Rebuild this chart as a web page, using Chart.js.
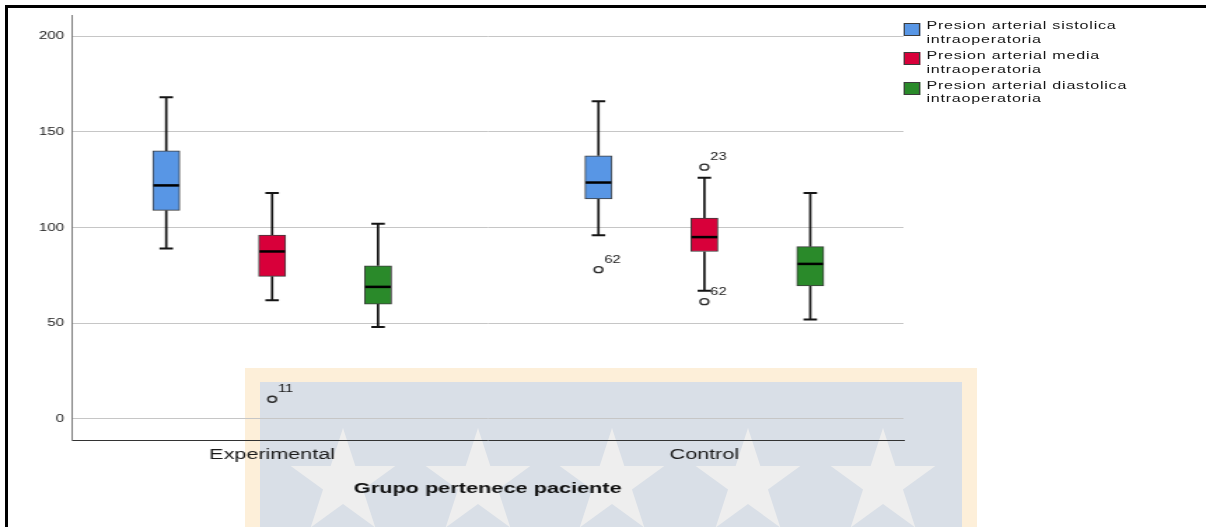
<!DOCTYPE html>
<html>
<head>
<meta charset="utf-8">
<script src="https://cdn.jsdelivr.net/npm/chart.js@4.4.1/dist/chart.umd.min.js"></script>
<style>
  html, body { margin: 0; padding: 0; background: #ffffff; }
  body { width: 1206px; height: 527px; position: relative; overflow: hidden; font-family: "Liberation Sans", Arial, sans-serif; }
  #backdrop { position: absolute; left: 0; top: 0; z-index: 0; }
  #wrap { position: absolute; left: 0; top: 0; width: 861px; height: 527px; transform: scaleX(1.4007); transform-origin: 0 0; z-index: 1; }
  #frame { position: absolute; left: 5px; top: 5px; width: 1210px; height: 530px; border-top: 3px solid #000; border-left: 3px solid #000; z-index: 3; pointer-events: none; }
  .sw { position: absolute; left: 645px; width: 12.3px; height: 13px; box-sizing: border-box; border: 1px solid #3c3c3c; }
  .lt { position: absolute; left: 661.4px; font-size: 11.5px; line-height: 13.5px; letter-spacing: 0.55px; color: #151515; white-space: nowrap; }
</style>
</head>
<body>
<svg id="backdrop" width="1206" height="527" viewBox="0 0 1206 527">
  <defs>
    <polygon id="star" points="0,-55 12.33,-16.97 52.31,-17.00 19.94,6.48 32.33,44.50 0,20.97 -32.33,44.50 -19.94,6.48 -52.31,-17.00 -12.33,-16.97" fill="#eeeeee"/>
  </defs>
  <rect x="245" y="368" width="732" height="170" fill="#fdefd9"/>
  <rect x="260" y="382" width="702" height="160" fill="#d9dfe7"/>
  <use href="#star" transform="translate(343,483)"/>
  <use href="#star" transform="translate(478,483)"/>
  <use href="#star" transform="translate(612,483)"/>
  <use href="#star" transform="translate(748,483)"/>
  <use href="#star" transform="translate(883,483)"/>
</svg>
<div id="wrap">
  <canvas id="chart"></canvas>
  <div id="legend"></div>
</div>
<div id="frame"></div>
<script>
// Patient groups on the category axis
const groups = ['Experimental', 'Control'];

// Legend labels (two lines each)
const seriesLabels = [
  ['Presion arterial sistolica', 'intraoperatoria'],
  ['Presion arterial media', 'intraoperatoria'],
  ['Presion arterial diastolica', 'intraoperatoria']
];
const seriesColors = ['#5896e5', '#d8003a', '#2a8a2a'];

// Box statistics per group: [Experimental, Control]
const sysLow  = [89, 96];
const sysQ1   = [109, 115];
const sysMed  = [122, 123.5];
const sysQ3   = [140, 137.5];
const sysHigh = [168, 166];

const medLow  = [62, 67];
const medQ1   = [74.5, 87.5];
const medMed  = [87.5, 95];
const medQ3   = [96, 105];
const medHigh = [118, 126];

const diaLow  = [48, 52];
const diaQ1   = [60, 69.5];
const diaMed  = [69, 81];
const diaQ3   = [80, 90];
const diaHigh = [102, 118];

// Outlying cases
const outlierGroup  = [0, 1, 1, 1];
const outlierSeries = [1, 0, 1, 1];
const outlierValue  = [10.3, 78, 131.5, 61.3];
const outlierId     = ['11', '62', '23', '62'];

// Value axis ticks
const yTicks = [0, 50, 100, 150, 200];

const stats = [
  { low: sysLow, q1: sysQ1, med: sysMed, q3: sysQ3, high: sysHigh },
  { low: medLow, q1: medQ1, med: medMed, q3: medQ3, high: medHigh },
  { low: diaLow, q1: diaQ1, med: diaMed, q3: diaQ3, high: diaHigh }
];

// Horizontal placement on the linear x scale
const groupPos = [1, 2];
const seriesOffset = [-0.245, 0, 0.245];
const BOX_W = 19.3;
const xPos = (g, s) => groupPos[g] + seriesOffset[s];

const boxDatasets = stats.map((st, si) => ({
  type: 'bar',
  label: seriesLabels[si].join(' '),
  data: groups.map((g, gi) => ({ x: xPos(gi, si), y: [st.q1[gi], st.q3[gi]] })),
  backgroundColor: seriesColors[si],
  borderColor: '#3c3c3c',
  borderWidth: 1,
  borderSkipped: false,
  barThickness: BOX_W,
  grouped: false,
  order: 2
}));

const outlierDataset = {
  type: 'scatter',
  label: 'outliers',
  data: outlierValue.map((v, i) => ({ x: xPos(outlierGroup[i], outlierSeries[i]), y: v })),
  pointStyle: 'circle',
  pointRadius: 3,
  pointBorderWidth: 1.3,
  pointBorderColor: '#2a2a2a',
  pointBackgroundColor: 'rgba(0,0,0,0)',
  order: 1
};

// Whiskers, caps, medians and case labels
const whiskerPlugin = {
  id: 'whiskers',
  beforeDatasetsDraw(chart) {
    const { ctx, scales: { x, y } } = chart;
    ctx.save();
    ctx.strokeStyle = '#151515';
    stats.forEach((st, si) => {
      groups.forEach((g, gi) => {
        const cx = x.getPixelForValue(xPos(gi, si));
        const capHalf = BOX_W / 4;
        const yLow = y.getPixelForValue(st.low[gi]);
        const yQ1 = y.getPixelForValue(st.q1[gi]);
        const yQ3 = y.getPixelForValue(st.q3[gi]);
        const yHigh = y.getPixelForValue(st.high[gi]);
        ctx.lineWidth = 1.7;
        ctx.beginPath();
        ctx.moveTo(cx, yHigh); ctx.lineTo(cx, yQ3);
        ctx.moveTo(cx, yQ1); ctx.lineTo(cx, yLow);
        ctx.stroke();
        ctx.lineWidth = 2;
        ctx.beginPath();
        ctx.moveTo(cx - capHalf, yHigh); ctx.lineTo(cx + capHalf, yHigh);
        ctx.moveTo(cx - capHalf, yLow); ctx.lineTo(cx + capHalf, yLow);
        ctx.stroke();
      });
    });
    ctx.restore();
  },
  afterDatasetsDraw(chart) {
    const { ctx, scales: { x, y } } = chart;
    ctx.save();
    ctx.strokeStyle = '#000000';
    ctx.lineWidth = 2.5;
    stats.forEach((st, si) => {
      groups.forEach((g, gi) => {
        const cx = x.getPixelForValue(xPos(gi, si));
        const ym = y.getPixelForValue(st.med[gi]);
        ctx.beginPath();
        ctx.moveTo(cx - BOX_W / 2 + 0.5, ym);
        ctx.lineTo(cx + BOX_W / 2 - 0.5, ym);
        ctx.stroke();
      });
    });
    ctx.fillStyle = '#1a1a1a';
    ctx.font = '10.5px "Liberation Sans", Arial, sans-serif';
    ctx.textAlign = 'left';
    ctx.textBaseline = 'alphabetic';
    outlierValue.forEach((v, i) => {
      const px = x.getPixelForValue(xPos(outlierGroup[i], outlierSeries[i]));
      const py = y.getPixelForValue(v);
      ctx.fillText(outlierId[i], px + 4.2, py - 7);
    });
    ctx.restore();
  }
};

new Chart(document.getElementById('chart'), {
  type: 'bar',
  data: { datasets: [...boxDatasets, outlierDataset] },
  options: {
    responsive: true,
    maintainAspectRatio: false,
    animation: false,
    events: [],
    layout: { padding: { top: 15, right: 216, bottom: 0, left: 0 } },
    plugins: { legend: { display: false }, tooltip: { enabled: false } },
    scales: {
      x: {
        type: 'linear',
        min: 0.537,
        max: 2.4606,
        offset: false,
        grid: { display: false, drawTicks: false, offset: false },
        border: { display: true, color: '#333333', width: 1 },
        afterBuildTicks: (scale) => { scale.ticks = groupPos.map(v => ({ value: v })); },
        afterFit: (scale) => { scale.height = 87; },
        ticks: {
          autoSkip: false,
          maxRotation: 0,
          padding: 6,
          color: '#1a1a1a',
          font: { family: '"Liberation Sans", Arial, sans-serif', size: 15.4 },
          callback: (value, index) => groups[index]
        },
        title: {
          display: true,
          text: 'Grupo pertenece paciente',
          color: '#111111',
          font: { family: '"Liberation Sans", Arial, sans-serif', size: 15.5, weight: 'bold' },
          padding: { top: 0, bottom: 29 }
        }
      },
      y: {
        min: -10.97,
        max: 211,
        afterBuildTicks: (scale) => { scale.ticks = yTicks.map(v => ({ value: v })); },
        afterFit: (scale) => { scale.width = 51.4; },
        grid: { color: '#c6c6c6', lineWidth: 1, drawTicks: false },
        border: { display: true, color: '#7a7a7a', width: 1 },
        ticks: {
          padding: 5.7,
          color: '#1a1a1a',
          font: { family: '"Liberation Sans", Arial, sans-serif', size: 10.8 }
        }
      }
    }
  },
  plugins: [whiskerPlugin]
});

// Legend
const legend = document.getElementById('legend');
seriesLabels.forEach((lines, i) => {
  const top = 19.3 + i * 29.7;
  const sw = document.createElement('div');
  sw.className = 'sw';
  sw.style.top = (top + 3.4) + 'px';
  sw.style.background = seriesColors[i];
  legend.appendChild(sw);
  const t = document.createElement('div');
  t.className = 'lt';
  t.style.top = top + 'px';
  lines.forEach((ln, k) => {
    const d = document.createElement('div');
    d.textContent = ln;
    t.appendChild(d);
  });
  legend.appendChild(t);
});
</script>
</body>
</html>
